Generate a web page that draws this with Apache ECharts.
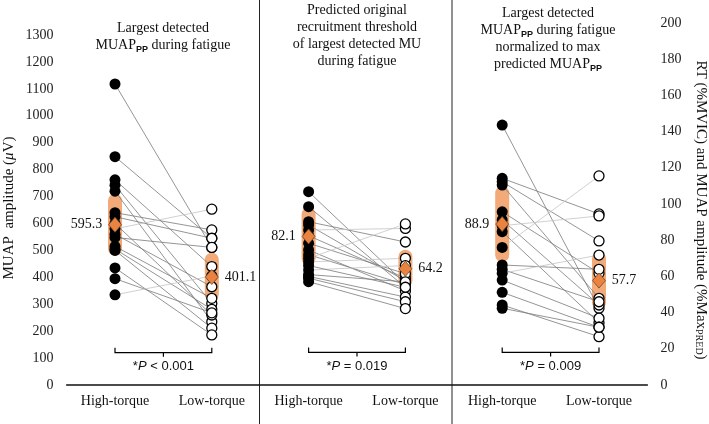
<!DOCTYPE html>
<html><head><meta charset="utf-8">
<script src="https://cdn.jsdelivr.net/npm/echarts@6/dist/echarts.min.js"></script>
<style>html,body{margin:0;padding:0;background:#fff}#c{width:709px;height:424px}</style>
</head><body><div id="c"></div>
<script>
// ---- data ----
const categories = ['High-torque','Low-torque','High-torque','Low-torque','High-torque','Low-torque'];
const leftAxis = {min: 0, max: 1300, interval: 100};
const rightAxis = {min: 0, max: 200, interval: 20};

// Panel 1: largest detected MUAPpp (µV) — paired subjects
const high1 = [1118, 848, 762, 742, 720, 640, 625, 600, 580, 560, 548, 515, 505, 500, 435, 395, 335];
const low1  = [511, 545, 440, 303, 235, 576, 545, 260, 653, 365, 511, 322, 281, 211, 186, 268, 405];
// Panel 2: predicted recruitment threshold (%MVIC)
const high2 = [106.8, 98.5, 90.2, 88.4, 85.6, 82.5, 78.3, 74.6, 72, 70, 68, 63.5, 61, 60, 59, 57.1, 66];
const low2  = [56, 54, 79, 57.5, 86.5, 59, 61.5, 52, 55.5, 89, 70, 66, 57, 48.6, 46, 42.2, 54];
// Panel 3: MUAPpp normalized (%MaxPRED)
const high3 = [143.6, 114.2, 112.3, 110.5, 95.7, 91.2, 88, 84.7, 76, 66.3, 63.9, 61.7, 58, 51.2, 44.2, 42.4];
const low3  = [42.4, 94.5, 79.6, 47.9, 61.7, 44.2, 93.4, 34.4, 115.5, 63.9, 46, 71.8, 36.9, 31.9, 26.7, 31.9];

// group means and SD
const means = [595.3, 401.1, 82.1, 64.2, 88.9, 57.7];
const sds   = [115, 90, 16, 10.5, 21, 16];

// significance annotations
const pLabels = ['< 0.001', '= 0.019', '= 0.009'];
const bracketY = [120, 18, 18];

const panelTitles = [
  'Largest detected\nMUAP{s|PP} during fatigue',
  'Predicted original\nrecruitment threshold\nof largest detected MU\nduring fatigue',
  'Largest detected\nMUAP{s|PP} during fatigue\nnormalized to max\npredicted MUAP{s|PP}'
];

// ---- build ----
const SERIF = 'Liberation Serif';
const SANS = 'Liberation Sans';
const panels = [
  {high: high1, low: low1, g: 0, c: 0},
  {high: high2, low: low2, g: 1, c: 2},
  {high: high3, low: low3, g: 1, c: 4}
];
const series = [];

// SD bars
[0, 1].forEach(g => {
  const rows = [];
  for (let i = 0; i < 6; i++) {
    if ((i < 2 ? 0 : 1) === g) rows.push([i, means[i] - sds[i], means[i] + sds[i]]);
  }
  series.push({
    type: 'custom', xAxisIndex: g, yAxisIndex: g, z: 1, silent: true,
    encode: {x: 0, y: [1, 2]},
    data: rows,
    renderItem(params, api) {
      const x = api.value(0);
      const top = api.coord([x, api.value(2)]);
      const bot = api.coord([x, api.value(1)]);
      return {type: 'rect', shape: {x: top[0] - 7, y: top[1], width: 14, height: bot[1] - top[1], r: 7},
        style: {fill: '#F2AA78'}};
    }
  });
});

// paired lines + points
panels.forEach(p => {
  p.high.forEach((h, i) => {
    const l = p.low[i];
    series.push({
      type: 'line', xAxisIndex: p.g, yAxisIndex: p.g, z: 2, silent: true,
      symbol: 'none',
      lineStyle: {color: h > l ? '#7a7a7a' : '#c4c4c4', width: 0.8},
      data: [[p.c, h], [p.c + 1, l]]
    });
  });
  series.push({
    type: 'scatter', xAxisIndex: p.g, yAxisIndex: p.g, z: 3, silent: true,
    symbolSize: 11, itemStyle: {color: '#000', opacity: 1},
    data: p.high.map(v => [p.c, v])
  });
  series.push({
    type: 'scatter', xAxisIndex: p.g, yAxisIndex: p.g, z: 3, silent: true,
    symbolSize: 10, itemStyle: {color: '#fff', borderColor: '#000', borderWidth: 1.3, opacity: 1},
    data: p.low.map(v => [p.c + 1, v])
  });
});

// means (diamonds with labels)
[0, 1].forEach(g => {
  const rows = [];
  for (let i = 0; i < 6; i++) {
    if ((i < 2 ? 0 : 1) === g) rows.push({
      value: [i, means[i]],
      label: {position: i % 2 === 0 ? 'left' : 'right'}
    });
  }
  series.push({
    type: 'scatter', xAxisIndex: g, yAxisIndex: g, z: 5, silent: true,
    symbol: 'diamond', symbolSize: [13, 15],
    itemStyle: {color: '#E9833F', borderColor: '#6e4a2c', borderWidth: 0.8, opacity: 1},
    label: {show: true, distance: 6, fontFamily: SERIF, fontSize: 14, color: '#111',
      formatter: d => d.value[1].toFixed(1)},
    data: rows
  });
});

// significance brackets
[0, 1].forEach(g => {
  const rows = [];
  [0, 1, 2].forEach(k => { if ((k === 0 ? 0 : 1) === g) rows.push([2 * k, 2 * k + 1, bracketY[k], k]); });
  series.push({
    type: 'custom', xAxisIndex: g, yAxisIndex: g, z: 4, silent: true,
    encode: {x: [0, 1], y: 2},
    data: rows,
    renderItem(params, api) {
      const a = api.coord([api.value(0), api.value(2)]);
      const b = api.coord([api.value(1), api.value(2)]);
      const mid = (a[0] + b[0]) / 2;
      const k = api.value(3);
      return {type: 'group', children: [
        {type: 'polyline', shape: {points: [[a[0], a[1] - 5], [a[0], a[1]], [b[0], b[1]], [b[0], b[1] - 5]]},
          style: {stroke: '#000', lineWidth: 1.2, fill: null}},
        {type: 'line', shape: {x1: mid, y1: a[1], x2: mid, y2: a[1] + 4}, style: {stroke: '#000', lineWidth: 1.2}},
        {type: 'text', x: mid, y: a[1] + 14,
          style: {text: '*{i|P} ' + pLabels[k], fontFamily: SANS, fontSize: 13, fill: '#111',
            align: 'center', verticalAlign: 'middle',
            rich: {i: {fontFamily: SANS, fontSize: 13, fontStyle: 'italic'}}}}
      ]};
    }
  });
});

const titleRich = {s: {fontFamily: SANS, fontSize: 9, fontWeight: 'bold', verticalAlign: 'bottom', lineHeight: 11}};
const titlePos = [[163, 20], [357, 2], [548, 5]];
const graphics = panelTitles.map((t, k) => ({
  type: 'text', x: titlePos[k][0], y: titlePos[k][1], silent: true,
  style: {text: t, fontFamily: SERIF, fontSize: 14, fill: '#111', lineHeight: 17,
    align: 'center', verticalAlign: 'top', rich: titleRich}
}));
// panel separators
[259.5, 452].forEach(x => graphics.push({type: 'line', silent: true,
  shape: {x1: x, y1: 0, x2: x, y2: 424}, style: {stroke: '#222', lineWidth: 1}}));
// axis titles
graphics.push({type: 'text', x: 9, y: 208, rotation: Math.PI / 2, silent: true,
  style: {text: 'MUAP  amplitude ({i|μ}V)', fontFamily: SERIF, fontSize: 15, fill: '#111',
    align: 'center', verticalAlign: 'middle',
    rich: {i: {fontFamily: SERIF, fontSize: 15, fontStyle: 'italic'}}}});
graphics.push({type: 'text', x: 701, y: 210, rotation: -Math.PI / 2, silent: true,
  style: {text: 'RT (%MVIC) and MUAP amplitude (%Max{s|PRED})', fontFamily: SERIF, fontSize: 15, fill: '#111',
    align: 'center', verticalAlign: 'middle',
    rich: {s: {fontFamily: SERIF, fontSize: 10, verticalAlign: 'bottom', lineHeight: 12}}}});

const chart = echarts.init(document.getElementById('c'), null, {renderer: 'canvas'});
chart.setOption({
  animation: false,
  backgroundColor: '#fff',
  grid: [
    {left: 66.6, right: 61.6, top: 35, bottom: 39},
    {left: 66.6, right: 61.6, top: 23, bottom: 39}
  ],
  xAxis: [
    {type: 'category', gridIndex: 0, data: categories, boundaryGap: true,
      axisLine: {lineStyle: {color: '#111', width: 1.5}}, axisTick: {show: false},
      axisLabel: {fontFamily: SERIF, fontSize: 14, color: '#111', margin: 9}},
    {type: 'category', gridIndex: 1, data: categories, boundaryGap: true, show: false}
  ],
  yAxis: [
    {type: 'value', gridIndex: 0, position: 'left', min: leftAxis.min, max: leftAxis.max, interval: leftAxis.interval,
      axisLine: {show: false}, axisTick: {show: false}, splitLine: {show: false},
      axisLabel: {fontFamily: SERIF, fontSize: 14, color: '#222', margin: 13, formatter: v => String(v)}},
    {type: 'value', gridIndex: 1, position: 'right', min: rightAxis.min, max: rightAxis.max, interval: rightAxis.interval,
      axisLine: {show: false}, axisTick: {show: false}, splitLine: {show: false},
      axisLabel: {fontFamily: SERIF, fontSize: 14, color: '#222', margin: 13, formatter: v => String(v)}}
  ],
  graphic: graphics,
  series: series
});
</script></body></html>
